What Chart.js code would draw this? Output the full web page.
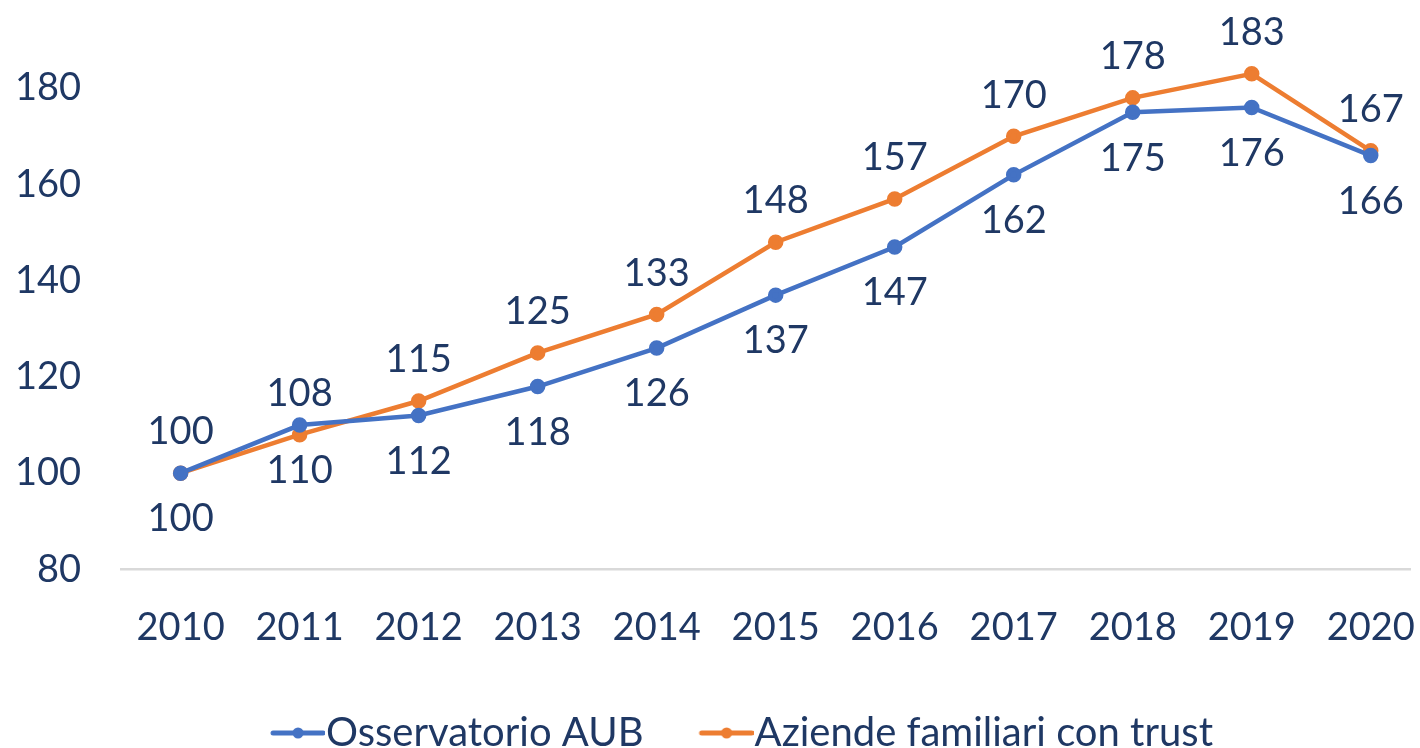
<!DOCTYPE html>
<html>
<head>
<meta charset="utf-8">
<script src="https://cdn.jsdelivr.net/npm/chart.js@4/dist/chart.umd.min.js"></script>
<style>
  html, body { margin: 0; padding: 0; background: #fff; }
  #wrap { width: 1420px; height: 748px; }
</style>
</head>
<body>
<div id="wrap"><canvas id="trend-chart"></canvas></div>
<script>
var years = [2010, 2011, 2012, 2013, 2014, 2015, 2016, 2017, 2018, 2019, 2020];
var aubValues = [100, 110, 112, 118, 126, 137, 147, 162, 175, 176, 166];
var trustValues = [100, 108, 115, 125, 133, 148, 157, 170, 178, 183, 167];
var yTicks = [80, 100, 120, 140, 160, 180];

var NAVY = '#1F3864';
var BLUE = '#4472C4';
var ORANGE = '#ED7D31';
var FONT = 'Lato, "Open Sans", sans-serif';

// marcatore legenda: linea con punto, spostata a destra del box
function legendMarker(color) {
  var c = document.createElement('canvas');
  c.width = 122; c.height = 14;
  var g = c.getContext('2d');
  g.strokeStyle = color;
  g.lineWidth = 5;
  g.lineCap = 'round';
  g.beginPath(); g.moveTo(70, 7); g.lineTo(120, 7); g.stroke();
  g.fillStyle = color;
  g.beginPath(); g.arc(95, 7, 5.5, 0, Math.PI * 2); g.fill();
  return c;
}

function toPoints(values) {
  return years.map(function (y, i) { return { x: y, y: values[i] }; });
}

// etichette dei valori: arancio sopra, blu sotto
var valueLabels = {
  id: 'valueLabels',
  afterDatasetsDraw: function (chart) {
    var ctx = chart.ctx;
    ctx.save();
    ctx.font = '38px ' + FONT;
    ctx.fillStyle = NAVY;
    ctx.textAlign = 'center';
    ctx.textBaseline = 'middle';
    chart.data.datasets.forEach(function (ds, di) {
      var meta = chart.getDatasetMeta(di);
      meta.data.forEach(function (pt, i) {
        var off = ds.labelAbove ? -41 : 46;
        ctx.fillText(String(ds.data[i].y), pt.x, pt.y + off);
      });
    });
    ctx.restore();
  }
};

var ctx = document.getElementById('trend-chart');
new Chart(ctx, {
  type: 'line',
  data: {
    datasets: [
      {
        label: 'Osservatorio AUB',
        data: toPoints(aubValues),
        borderColor: BLUE,
        backgroundColor: BLUE,
        borderWidth: 4.5,
        pointRadius: 5.5,
        pointHoverRadius: 5.5,
        tension: 0,
        labelAbove: false,
        marker: legendMarker(BLUE)
      },
      {
        label: 'Aziende familiari con trust',
        data: toPoints(trustValues),
        borderColor: ORANGE,
        backgroundColor: ORANGE,
        borderWidth: 4.5,
        pointRadius: 5.5,
        pointHoverRadius: 5.5,
        tension: 0,
        labelAbove: true,
        marker: legendMarker(ORANGE)
      }
    ]
  },
  options: {
    responsive: true,
    maintainAspectRatio: false,
    animation: false,
    layout: { padding: { left: 15, right: 0, top: 0, bottom: -15 } },
    plugins: {
      tooltip: { enabled: false },
      legend: {
        position: 'bottom',
        labels: {
          color: NAVY,
          font: { family: FONT, size: 40 },
          usePointStyle: true,
          pointStyleWidth: 84,
          padding: 7,
          generateLabels: function (chart) {
            return chart.data.datasets.map(function (ds, i) {
              return {
                text: ds.label,
                fontColor: NAVY,
                pointStyle: ds.marker,
                datasetIndex: i,
                lineWidth: 0,
                hidden: false
              };
            });
          }
        }
      }
    },
    scales: {
      x: {
        type: 'linear',
        min: 2009.5,
        max: 2020.33,
        grid: { display: true, drawOnChartArea: false, drawTicks: true, tickLength: 36, color: 'rgba(0,0,0,0)' },
        border: { display: true, color: '#D9D9D9', width: 2.5 },
        afterBuildTicks: function (scale) {
          scale.ticks = years.map(function (v) { return { value: v }; });
        },
        afterFit: function (scale) {
          scale.height = scale.height + 55;
        },
        ticks: {
          color: NAVY,
          font: { family: FONT, size: 38 },
          padding: 0,
          maxRotation: 0,
          autoSkip: false,
          callback: function (v) { return String(v); }
        }
      },
      y: {
        min: 80,
        max: 193.6,
        grid: { display: true, drawOnChartArea: false, drawTicks: true, tickLength: 40, color: 'rgba(0,0,0,0)' },
        border: { display: false },
        afterBuildTicks: function (scale) {
          scale.ticks = yTicks.map(function (v) { return { value: v }; });
        },
        ticks: {
          color: NAVY,
          font: { family: FONT, size: 38 },
          padding: 0
        }
      }
    }
  },
  plugins: [valueLabels]
});
</script>
</body>
</html>
